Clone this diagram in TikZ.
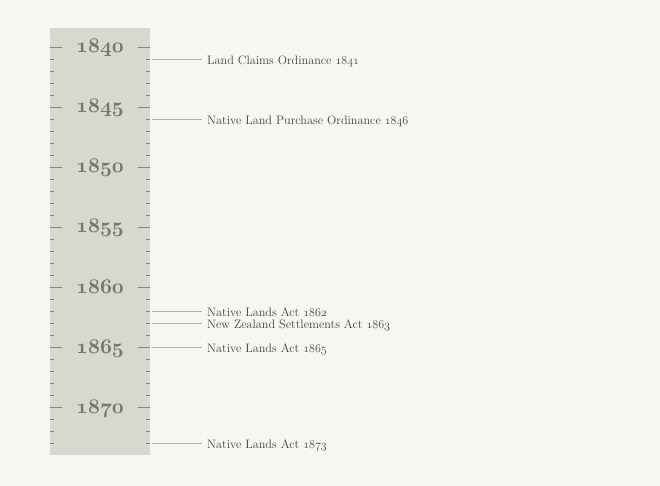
\documentclass[tikz,border=0pt]{standalone}
\usepackage{tikz}

\definecolor{paper}{HTML}{F7F6F2}
\definecolor{strip}{HTML}{D9D8D0}
\definecolor{tickgray}{HTML}{85857F}
\definecolor{leadergray}{HTML}{B2B2AC}
\definecolor{yeargray}{HTML}{76766E}
\definecolor{actgray}{HTML}{42423C}

\newcommand{\osyear}[1]{{\fontencoding{OML}\fontfamily{cmm}\fontseries{b}\fontshape{it}\selectfont #1}}
\newcommand{\osnum}[1]{{\fontencoding{OML}\fontfamily{cmm}\fontseries{m}\fontshape{it}\selectfont #1}}

\tikzset{
  yearlabel/.style={text=yeargray, anchor=base, inner sep=0pt,
    font=\fontsize{20}{20}\selectfont},
  actlabel/.style={text=actgray, anchor=west, inner xsep=5pt, inner ysep=0pt,
    text height=10.5pt, text depth=0pt, font=\fontsize{12.2}{13}\selectfont},
  tickline/.style={draw=tickgray, line width=0.8pt},
  leader/.style={draw=leadergray, line width=0.8pt}
}

\begin{document}
\begin{tikzpicture}[x=1pt,y=-1pt]
  \useasboundingbox (0,0) rectangle (660,486);
  \fill[paper] (0,0) rectangle (660,486);
  \fill[strip] (50,28) rectangle (150,455);

  \foreach \i in {0,...,33} {
    \draw[tickline] (50,47+12*\i) -- (54,47+12*\i);
    \draw[tickline] (146,47+12*\i) -- (150,47+12*\i);
  }
  \foreach \i in {0,5,...,30} {
    \draw[tickline] (50,47+12*\i) -- (62,47+12*\i);
    \draw[tickline] (138,47+12*\i) -- (150,47+12*\i);
  }

  \foreach \yr [count=\k from 0] in {1840,1845,...,1870}
    \node (y\yr) [yearlabel] at (100,53+60*\k) {\osyear{\yr}};

  \node (a1841) [actlabel] at (202,59) {Land Claims Ordinance \osnum{1841}};
  \node (a1846) [actlabel] at (202,119) {Native Land Purchase Ordinance \osnum{1846}};
  \node (a1862) [actlabel] at (202,311) {Native Lands Act \osnum{1862}};
  \node (a1863) [actlabel] at (202,323) {New Zealand Settlements Act \osnum{1863}};
  \node (a1865) [actlabel] at (202,347) {Native Lands Act \osnum{1865}};
  \node (a1873) [actlabel] at (202,443) {Native Lands Act \osnum{1873}};

  \coordinate (m1841) at (152,59);
  \coordinate (m1846) at (152,119);
  \coordinate (m1862) at (152,311);
  \coordinate (m1863) at (152,323);
  \coordinate (m1865) at (152,347);
  \coordinate (m1873) at (152,443);

  \draw[leader] (m1841) -- (a1841);
  \draw[leader] (m1846) -- (a1846);
  \draw[leader] (m1862) -- (a1862);
  \draw[leader] (m1863) -- (a1863);
  \draw[leader] (m1865) -- (a1865);
  \draw[leader] (m1873) -- (a1873);
\end{tikzpicture}
\end{document}
